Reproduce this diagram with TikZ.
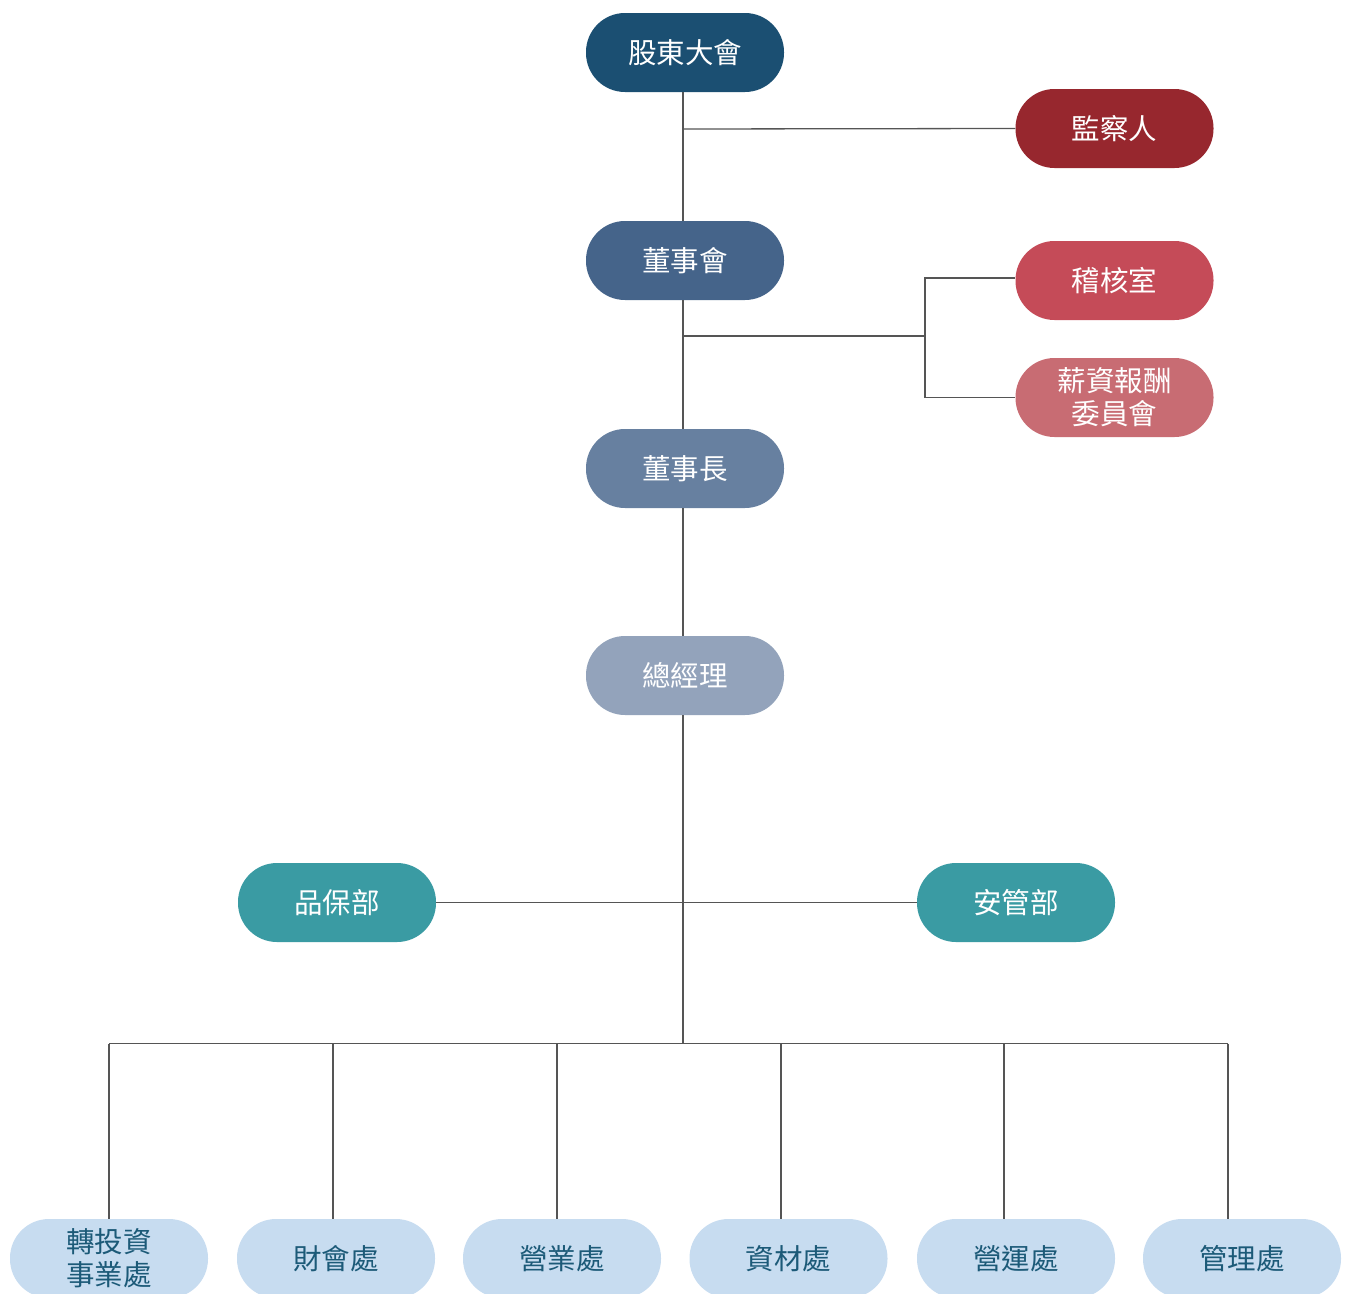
\documentclass[tikz,border=0pt]{standalone}
\usepackage{fontspec}
\setmainfont{Noto Sans CJK TC}
\definecolor{cA}{HTML}{1B4F72}
\definecolor{cB}{HTML}{97272E}
\definecolor{cC}{HTML}{45648A}
\definecolor{cD}{HTML}{C54B58}
\definecolor{cE}{HTML}{C86C73}
\definecolor{cF}{HTML}{6780A0}
\definecolor{cG}{HTML}{93A3BB}
\definecolor{cH}{HTML}{3A9BA3}
\definecolor{cI}{HTML}{C7DCF0}
\definecolor{cJ}{HTML}{1C5A78}
\definecolor{lineC}{HTML}{555555}
\begin{document}
\begin{tikzpicture}[x=1pt,y=-1pt,
  pill/.style={rectangle, rounded corners=39pt, minimum width=198pt, minimum height=79pt,
    inner sep=0pt, align=center, text=white, font=\fontsize{28.5}{33}\selectfont},
  light/.style={pill, fill=cI, text=cJ},
  conn/.style={draw=lineC, line width=1.3pt}]
\useasboundingbox (0,0) rectangle (1346,1293);
\clip (0,0) rectangle (1346,1293);
\node[pill, fill=cA] (agm) at (685,52.5) {股東大會};
\node[pill, fill=cB] (sup) at (1114.5,128.5) {監察人};
\node[pill, fill=cC] (bod) at (685,260.5) {董事會};
\node[pill, fill=cD] (aud) at (1114.5,280.5) {稽核室};
\node[pill, fill=cE] (rem) at (1114.5,397.5) {薪資報酬\\委員會};
\node[pill, fill=cF] (chr) at (685,468.5) {董事長};
\node[pill, fill=cG] (gm) at (685,675.5) {總經理};
\node[pill, fill=cH] (qa) at (337,902.5) {品保部};
\node[pill, fill=cH] (sec) at (1016,902.5) {安管部};
\node[light] (b1) at (109,1258.5) {轉投資\\事業處};
\node[light] (b2) at (336,1258.5) {財會處};
\node[light] (b3) at (562,1258.5) {營業處};
\node[light] (b4) at (788.5,1258.5) {資材處};
\node[light] (b5) at (1016,1258.5) {營運處};
\node[light] (b6) at (1242,1258.5) {管理處};
% junctions
\coordinate (j1) at (683,129);
\coordinate (j2) at (683,336);
\coordinate (j3) at (925,336);
\coordinate (bus) at (683,1043.5);
% main spine
\draw[conn] (683,92) -- (683,221);
\draw[conn] (683,300) -- (683,429);
\draw[conn] (683,508) -- (683,636);
\draw[conn] (683,715) -- (bus);
\draw[conn] (j1) -- (sup.west);
\draw[conn] (j2) -- (j3);
\draw[conn] (j3) |- ([yshift=2.5pt]aud.west);
\draw[conn] (j3) |- (rem.west);
\draw[conn] (qa.east) -- (sec.west);
\draw[conn] (109,1043.5) -- (1228,1043.5);
\draw[conn] (109,1043.5) -- (109,1219);
\draw[conn] (333,1043.5) -- (333,1219);
\draw[conn] (557,1043.5) -- (557,1219);
\draw[conn] (781,1043.5) -- (781,1219);
\draw[conn] (1004,1043.5) -- (1004,1219);
\draw[conn] (1228,1043.5) -- (1228,1219);
\end{tikzpicture}
\end{document}
